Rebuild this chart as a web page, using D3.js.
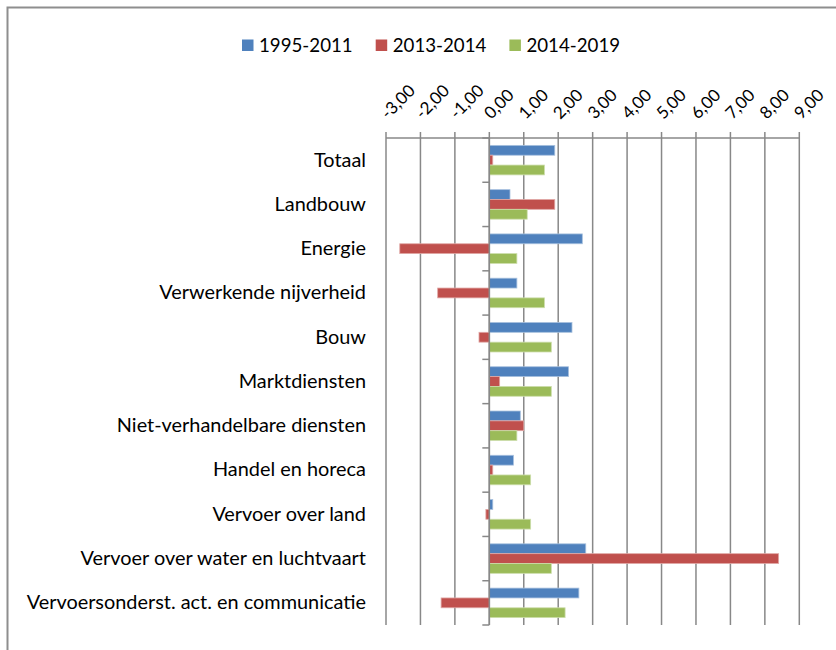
<!DOCTYPE html>
<meta charset="utf-8">
<script src="https://d3js.org/d3.v7.min.js"></script>
<style>
body { margin: 0; background: #fff; }
text { font-family: Lato, "Open Sans", sans-serif; fill: #000; }
</style>
<body>
<div id="chart"></div>
<script>

// categories (top to bottom)
const sectors = [
  "Totaal",
  "Landbouw",
  "Energie",
  "Verwerkende nijverheid",
  "Bouw",
  "Marktdiensten",
  "Niet-verhandelbare diensten",
  "Handel en horeca",
  "Vervoer over land",
  "Vervoer over water en luchtvaart",
  "Vervoersonderst. act. en communicatie"
];

// series
const periods = ["1995-2011", "2013-2014", "2014-2019"];
const v1995_2011 = [1.9, 0.6, 2.7, 0.8, 2.4, 2.3, 0.9, 0.7, 0.1, 2.8, 2.6];
const v2013_2014 = [0.1, 1.9, -2.6, -1.5, -0.3, 0.3, 1.0, 0.1, -0.1, 8.4, -1.4];
const v2014_2019 = [1.6, 1.1, 0.8, 1.6, 1.8, 1.8, 0.8, 1.2, 1.2, 1.8, 2.2];
const colors = ["#4F81BD", "#C0504D", "#9BBB59"];
const strokes = ["#a7c0de", "#e0a8a6", "#cddeac"];

// axis ticks
const ticks = [-3, -2, -1, 0, 1, 2, 3, 4, 5, 6, 7, 8, 9];

const seriesValues = [v1995_2011, v2013_2014, v2014_2019];
const data = sectors.map((s, i) => ({
  sector: s,
  values: periods.map((p, k) => ({ period: p, k: k, value: seriesValues[k][i] }))
}));

const W = 836, H = 650;
const plot = { left: 386, right: 799.3, top: 138, bottom: 625 };

const svg = d3.select("#chart")
  .append("svg")
    .attr("width", W)
    .attr("height", H);

// outer chart frame (runs past the picture edge)
svg.append("rect")
  .attr("x", 7.5).attr("y", 7.5)
  .attr("width", 900).attr("height", 700)
  .attr("fill", "none")
  .attr("stroke", "#8e8e8e")
  .attr("stroke-width", 2);

const x = d3.scaleLinear()
  .domain([ticks[0], ticks[ticks.length - 1]])
  .range([plot.left, plot.right]);

const y = d3.scaleBand()
  .domain(sectors)
  .range([plot.top, plot.bottom])
  .paddingInner(1/3)
  .paddingOuter(1/6);

const ySub = d3.scaleBand()
  .domain(periods)
  .range([0, y.bandwidth()]);

const fmt = d3.formatLocale({ decimal: ",", thousands: ".", grouping: [3], currency: ["€", ""], minus: "-" }).format(".2f");

// gridlines
svg.append("g")
  .selectAll("line")
  .data(ticks)
  .join("line")
    .attr("x1", d => x(d)).attr("x2", d => x(d))
    .attr("y1", plot.top - 6).attr("y2", plot.bottom)
    .attr("stroke", "#888")
    .attr("stroke-width", 1.5);

// top value axis line
svg.append("line")
  .attr("x1", x(ticks[0])).attr("x2", x(ticks[ticks.length - 1]))
  .attr("y1", plot.top).attr("y2", plot.top)
  .attr("stroke", "#888")
  .attr("stroke-width", 1.5);

// value labels, rotated
svg.append("g")
  .selectAll("text")
  .data(ticks)
  .join("text")
    .attr("transform", d => `translate(${x(d) + 2},${plot.top - 18}) rotate(-45)`)
    .style("font-size", "17px")
    .text(d => fmt(d));

// bars
const groups = svg.append("g")
  .selectAll("g")
  .data(data)
  .join("g")
    .attr("transform", d => `translate(0,${y(d.sector)})`);

groups.selectAll("rect")
  .data(d => d.values)
  .join("rect")
    .attr("x", d => x(Math.min(0, d.value)))
    .attr("y", d => ySub(d.period))
    .attr("width", d => Math.abs(x(d.value) - x(0)))
    .attr("height", ySub.bandwidth())
    .attr("fill", d => colors[d.k])
    .attr("stroke", d => strokes[d.k])
    .attr("stroke-width", 0.8);

// category axis at zero
const yAxis = svg.append("g")
  .attr("transform", `translate(${x(0)},0)`);
yAxis.append("line")
  .attr("y1", plot.top).attr("y2", plot.bottom)
  .attr("stroke", "#888")
  .attr("stroke-width", 1.5);
yAxis.selectAll(".tk")
  .data(d3.range(sectors.length + 1))
  .join("line")
    .attr("class", "tk")
    .attr("x1", -7).attr("x2", 0)
    .attr("y1", i => plot.top + i * y.step())
    .attr("y2", i => plot.top + i * y.step())
    .attr("stroke", "#888")
    .attr("stroke-width", 1.5);

// category labels
svg.append("g")
  .selectAll("text")
  .data(sectors)
  .join("text")
    .attr("x", 366)
    .attr("y", d => y(d) + y.bandwidth() / 2)
    .attr("dy", "0.32em")
    .attr("text-anchor", "end")
    .style("font-size", "19.9px")
    .text(d => d);

// legend
const legend = svg.append("g")
  .selectAll("g")
  .data(periods)
  .join("g")
    .attr("transform", (d, i) => `translate(${242 + i * 133.7},39.5)`);
legend.append("rect")
  .attr("width", 11.5).attr("height", 11.5)
  .attr("fill", (d, i) => colors[i]);
legend.append("text")
  .attr("x", 17)
  .attr("y", 12)
  .style("font-size", "18.7px")
  .text(d => d);

</script>
</body>
